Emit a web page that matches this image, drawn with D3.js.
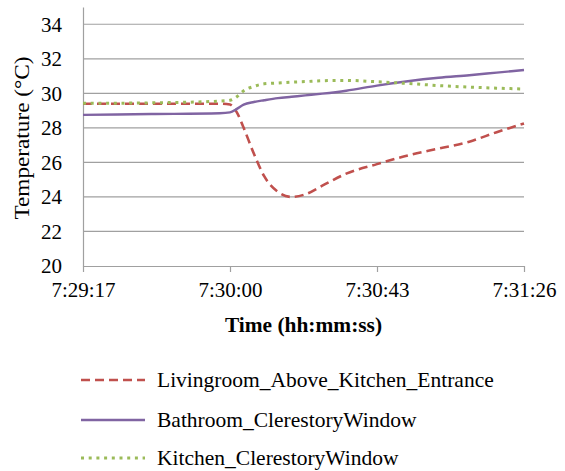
<!DOCTYPE html>
<html><head><meta charset="utf-8">
<script src="https://cdn.jsdelivr.net/npm/d3@7"></script>
<style>body{margin:0;background:#fff}svg text{font-family:"Liberation Serif","Times New Roman",serif !important;fill:#000}</style>
</head><body><svg id="c" width="565" height="471"></svg>
<script>
const times = ["7:29:17","7:29:37","7:29:57","7:30:00","7:30:02","7:30:04","7:30:07","7:30:10","7:30:14","7:30:18","7:30:22","7:30:27","7:30:34","7:30:43","7:30:52","7:31:01","7:31:10","7:31:18","7:31:26"];
const livingroom = [29.4,29.4,29.4,29.35,28.9,28.0,26.5,25.2,24.3,24.0,24.15,24.65,25.35,25.9,26.4,26.8,27.2,27.75,28.25];
const bathroom = [28.75,28.8,28.85,28.9,29.1,29.35,29.5,29.6,29.72,29.8,29.88,29.98,30.15,30.45,30.7,30.9,31.05,31.2,31.35];
const kitchen = [29.42,29.45,29.55,29.6,29.8,30.15,30.4,30.55,30.6,30.65,30.68,30.73,30.75,30.67,30.57,30.45,30.36,30.3,30.25];
const seriesNames = ["Livingroom_Above_Kitchen_Entrance","Bathroom_ClerestoryWindow","Kitchen_ClerestoryWindow"];
const xTickLabels = ["7:29:17","7:30:00","7:30:43","7:31:26"];
const yTicks = [20,22,24,26,28,30,32,34];

const parse = d3.timeParse("%H:%M:%S");
const fmt = d3.timeFormat("%-H:%M:%S");
const svg = d3.select("#c");
const L=83, R=524, T=7, B=266;
const FONT = '"Liberation Serif","Times New Roman",serif';
const x = d3.scaleTime().domain([parse(xTickLabels[0]), parse(xTickLabels[3])]).range([L,R]);
const y = d3.scaleLinear().domain([20,35]).range([B,T]);
const grey = "#a0a0a0";

// gridlines
svg.append("g").selectAll("line").data(yTicks.slice(1)).join("line")
  .attr("x1",L).attr("x2",R).attr("y1",d=>y(d)).attr("y2",d=>y(d))
  .attr("stroke",grey).attr("stroke-width",1.2);

// y axis
const ya = svg.append("g").attr("transform",`translate(${L},0)`)
  .call(d3.axisLeft(y).tickValues(yTicks).tickSize(0).tickPadding(21));
ya.attr("font-family",FONT).attr("font-size",21);
ya.select(".domain").attr("stroke",grey).attr("stroke-width",1.2);
ya.selectAll("text").style("font-family",FONT).style("font-size","21px");

// x axis
const xa = svg.append("g").attr("transform",`translate(0,${B})`)
  .call(d3.axisBottom(x).tickValues(xTickLabels.map(parse)).tickFormat(fmt).tickSizeInner(6).tickSizeOuter(0).tickPadding(10));
xa.attr("font-family",FONT).attr("font-size",21);
xa.select(".domain").attr("stroke",grey).attr("stroke-width",1.2);
xa.selectAll(".tick line").attr("stroke",grey).attr("stroke-width",1.2);
xa.selectAll("text").style("font-family",FONT).style("font-size","21px");

const styles = [
  {data:livingroom,color:"#C0504D",dash:"9,5",w:2.6},
  {data:bathroom,color:"#8064A2",dash:null,w:2.4},
  {data:kitchen,color:"#9BBB59",dash:"3,4.7",w:3}
];
const line = d3.line().x((d,i)=>x(parse(times[i]))).y(d=>y(d)).curve(d3.curveMonotoneX);
styles.forEach(s=>{
  svg.append("path").attr("d",line(s.data)).attr("fill","none")
    .attr("stroke",s.color).attr("stroke-width",s.w).attr("stroke-dasharray",s.dash);
});

// axis titles
svg.append("text").attr("transform","translate(29,138) rotate(-90)").attr("text-anchor","middle")
  .style("font-size","21px").attr("textLength",163).attr("lengthAdjust","spacingAndGlyphs").text("Temperature (°C)");
svg.append("text").attr("x",(L+R)/2).attr("y",332).attr("text-anchor","middle")
  .style("font-size","21.4px").style("font-weight","bold").text("Time (hh:mm:ss)");

// legend
const ly = [380,420,458];
styles.forEach((s,i)=>{
  svg.append("line").attr("x1",81).attr("x2",145).attr("y1",ly[i]).attr("y2",ly[i])
    .attr("stroke",s.color).attr("stroke-width",s.w).attr("stroke-dasharray",s.dash);
  svg.append("text").attr("x",157).attr("y",ly[i]+7).style("font-size","21.5px").text(seriesNames[i]);
});
</script></body></html>
